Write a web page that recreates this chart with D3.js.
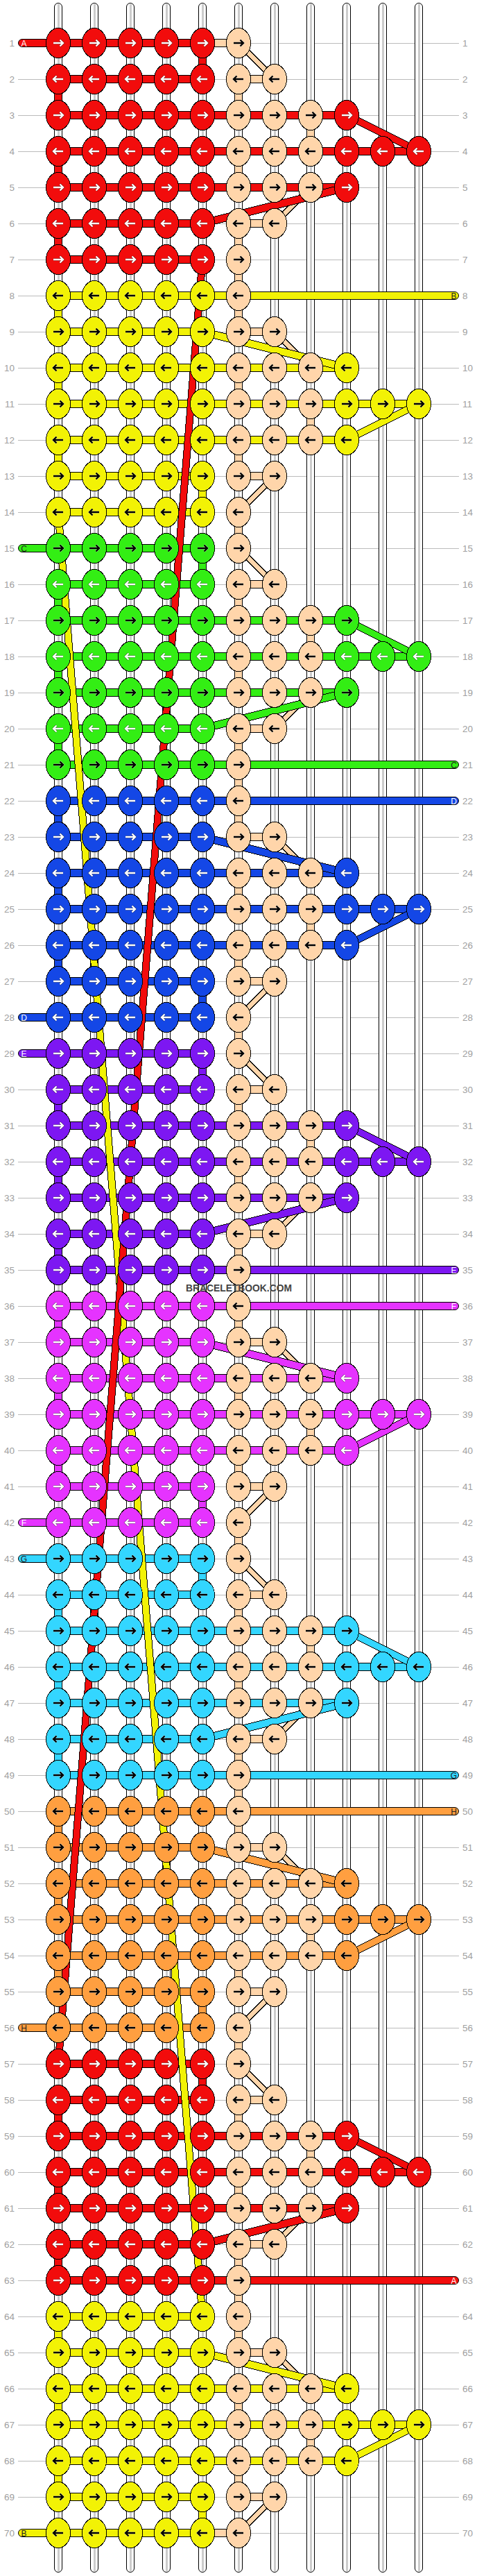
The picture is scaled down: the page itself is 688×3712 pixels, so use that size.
<!DOCTYPE html>
<html>
<head>
<meta charset="utf-8">
<script src="https://cdn.jsdelivr.net/npm/d3@7"></script>
<style>
  html, body { margin: 0; background: #fff; }
  svg { display: block; }
  text { font-family: "Liberation Sans", Arial, sans-serif; }
  rect, line, ellipse, .slanted { shape-rendering: crispEdges; }
</style>
</head>
<body>
<svg class="entry-point"></svg>
<script>
/* pattern data */
const rowNumbers = d3.range(1, 71)
const colNumbers = d3.range(0, 11)

// first row of each colour band
const bandStart = [1, 8, 15, 22, 29, 36, 43, 50, 57, 64]
const bandColors = ['#f20c0c', '#f2f205', '#33ee14', '#1447e6', '#7d17f2', '#e533ff', '#33d6ff', '#ff9f40', '#f20c0c', '#f2f205']
const bandArrows = ['#fff', '#000', '#000', '#fff', '#fff', '#fff', '#000', '#000', '#fff', '#000']
const peach = '#ffd5aa'

// the right side repeats every 14 rows
const extraKnots = [1, 2, 4, 6, 4, 2, 1, 1, 2, 4, 6, 4, 2, 1]
const peachLinkSteps = [2, 6, 9, 13]
const wideLinkSteps = [3, 4, 5, 10, 11, 12]
const widestLinkSteps = [4, 11]
const peachDiagonals = [[1, 5, 6], [5, 7, 6], [9, 6, 7], [13, 6, 5]]
const colourDiagonals = [[3, 8, 10], [5, 8, 4], [9, 4, 8], [11, 10, 8]]
const col5PeachSteps = [2, 4, 6, 7, 8, 10, 12, 14]
const col7PeachSteps = [3, 11]

// vertical links on the left columns
const col0LinkRows = [2, 4, 6, 8, 10, 12, 16, 18, 20, 22, 24, 26, 30, 32, 34, 36, 38, 40, 44, 46, 48, 50, 52, 54, 58, 60, 62, 64, 66, 68]
const col4LinkRows = [1, 13, 15, 27, 29, 41, 43, 55, 57, 69]

// ends of the strands
const leftTailRows = [1, 15, 28, 29, 42, 43, 56, 70]
const leftTailLetters = ['A', 'C', 'D', 'E', 'F', 'G', 'H', 'B']
const rightTailRows = [8, 21, 22, 35, 36, 49, 50, 63]
const rightTailLetters = ['B', 'C', 'D', 'E', 'F', 'G', 'H', 'A']
const peachStubRows = [1, 70]

// the two long strands running across the left block
const longStrands = [
  { color: 1, from: [0, 14], to: [4, 64] },
  { color: 0, from: [4, 7], to: [0, 57] }
]

/* helpers */
const x = d3.scaleLinear().domain([0, 10]).range([84, 604])
const y = d3.scaleLinear().domain([1, 70]).range([62, 3650])

const step = r => (r - 1) % 14 + 1
const band = r => d3.bisectRight(bandStart, r) - 1
const rowColor = r => bandColors[band(r)]
const darkOutline = (r) => bandArrows[band(r)] === '#fff'
const knotCount = r => 5 + extraKnots[step(r) - 1]

const root = d3.select('.entry-point')
  .attr('width', 688)
  .attr('height', 3712)

root.append('rect').attr('width', 688).attr('height', 3712).attr('fill', '#fff')

/* row guides and numbers */
const guides = root.append('g')
guides.selectAll('line')
  .data(rowNumbers).enter().append('line')
  .attr('x1', 26).attr('x2', 662)
  .attr('y1', r => y(r) + 0.5).attr('y2', r => y(r) + 0.5)
  .attr('stroke', '#bbb')

guides.selectAll('text.left')
  .data(rowNumbers).enter().append('text')
  .attr('class', 'left')
  .attr('x', 21).attr('y', r => y(r))
  .attr('dy', '0.35em')
  .attr('text-anchor', 'end')
  .attr('font-size', 13.5)
  .attr('fill', '#a0a0a0')
  .text(r => r)

guides.selectAll('text.right')
  .data(rowNumbers).enter().append('text')
  .attr('class', 'right')
  .attr('x', 667).attr('y', r => y(r))
  .attr('dy', '0.35em')
  .attr('font-size', 13.5)
  .attr('fill', '#a0a0a0')
  .text(r => r)

/* empty tubes */
const tubes = root.append('g')
tubes.selectAll('rect')
  .data(colNumbers).enter().append('rect')
  .attr('x', c => x(c) - 5.5).attr('y', 4.5)
  .attr('width', 11).attr('height', 3702)
  .attr('rx', 5.5)
  .attr('fill', '#fff').attr('stroke', '#000')
  .style('shape-rendering', 'auto')
tubes.selectAll('line')
  .data(colNumbers).enter().append('line')
  .attr('x1', c => x(c)).attr('x2', c => x(c))
  .attr('y1', 6).attr('y2', 3705)
  .attr('stroke', '#ccc').attr('stroke-width', 3)

/* short links */
const hLinks = [], vLinks = [], diagonals = []

rowNumbers.forEach(r => {
  const k = step(r)
  d3.range(0, 4).forEach(c => hLinks.push({ r, c, to: c + 1, color: rowColor(r) }))
  if (peachLinkSteps.includes(k)) hLinks.push({ r, c: 5, to: 6, color: peach })
  if (wideLinkSteps.includes(k)) {
    d3.range(4, 8).forEach(c => hLinks.push({ r, c, to: c + 1, color: rowColor(r) }))
  }
  if (widestLinkSteps.includes(k)) {
    d3.range(8, 10).forEach(c => hLinks.push({ r, c, to: c + 1, color: rowColor(r) }))
  }
  if (rightTailRows.includes(r)) hLinks.push({ r, c: 4, to: 5, color: rowColor(r) })
  if (peachStubRows.includes(r)) hLinks.push({ r, c: 4, to: 5, color: peach })

  if (r < 70) {
    if (col5PeachSteps.includes(k)) vLinks.push({ r, c: 5, color: peach })
    if (col7PeachSteps.includes(k)) vLinks.push({ r, c: 7, color: peach })
  }
  peachDiagonals.filter(d => d[0] === k && r < 70)
    .forEach(d => diagonals.push({ r, from: d[1], to: d[2], color: peach }))
})
rowNumbers.forEach(r => {
  colourDiagonals.filter(d => d[0] === step(r))
    .forEach(d => diagonals.push({ r, from: d[1], to: d[2], color: rowColor(r) }))
})
col0LinkRows.forEach(r => vLinks.push({ r, c: 0, color: rowColor(r) }))
col4LinkRows.forEach(r => vLinks.push({ r, c: 4, color: rowColor(r) }))

const links = root.append('g').attr('stroke', '#000')
links.selectAll('rect.h')
  .data(hLinks).enter().append('rect')
  .attr('class', 'h')
  .attr('x', d => x(d.c)).attr('y', d => y(d.r) - 5.5)
  .attr('width', d => x(d.to) - x(d.c)).attr('height', 11)
  .attr('fill', d => d.color)
links.selectAll('rect.v')
  .data(vLinks).enter().append('rect')
  .attr('class', 'v')
  .attr('x', d => x(d.c) - 5.5).attr('y', d => y(d.r))
  .attr('width', 11).attr('height', d => y(d.r + 1) - y(d.r))
  .attr('fill', d => d.color)

/* slanted links keep their thickness along the y axis */
const slant = d3.area().x(p => p[0]).y0(p => p[1] - 5.5).y1(p => p[1] + 5.5)
links.selectAll('path')
  .data(diagonals).enter().append('path')
  .attr('class', 'slanted')
  .attr('d', d => slant([[x(d.from), y(d.r)], [x(d.to), y(d.r + 1)]].sort((a, b) => a[0] - b[0])))
  .attr('fill', d => d.color)

/* tails */
const tailWidth = 11
const leftTails = root.append('g')
leftTails.selectAll('rect')
  .data(leftTailRows).enter().append('rect')
  .attr('x', 26.5).attr('y', r => y(r) - tailWidth / 2)
  .attr('width', 62).attr('height', tailWidth)
  .attr('rx', 5.5)
  .attr('fill', rowColor).attr('stroke', '#000')
  .style('shape-rendering', 'auto')
leftTails.selectAll('text')
  .data(leftTailRows).enter().append('text')
  .attr('x', 34.5).attr('y', r => y(r) + 4.5)
  .attr('text-anchor', 'middle')
  .attr('font-size', 12)
  .attr('fill', r => darkOutline(r) ? '#fff' : '#222')
  .text((r, i) => leftTailLetters[i])

const rightTails = root.append('g')
rightTails.selectAll('rect')
  .data(rightTailRows).enter().append('rect')
  .attr('x', 340).attr('y', r => y(r) - tailWidth / 2)
  .attr('width', 321.5).attr('height', tailWidth)
  .attr('rx', 5.5)
  .attr('fill', rowColor).attr('stroke', '#000')
  .style('shape-rendering', 'auto')
rightTails.selectAll('text')
  .data(rightTailRows).enter().append('text')
  .attr('x', 654.5).attr('y', r => y(r) + 4.5)
  .attr('text-anchor', 'middle')
  .attr('font-size', 12)
  .attr('fill', r => darkOutline(r) ? '#fff' : '#222')
  .text((r, i) => rightTailLetters[i])

/* long strands, red over yellow */
const strand = d3.area().curve(d3.curveLinear)
  .y(p => p[1]).x0(p => p[0] - 5).x1(p => p[0] + 5)
root.append('g').selectAll('path')
  .data(longStrands).enter().append('path')
  .attr('class', 'slanted')
  .attr('d', d => strand([[x(d.from[0]), y(d.from[1])], [x(d.to[0]), y(d.to[1])]]))
  .attr('fill', d => bandColors[d.color])
  .attr('stroke', '#000')

/* knots */
const knots = []
rowNumbers.forEach(r => {
  d3.range(0, knotCount(r)).forEach(c => knots.push({ r, c }))
})
const knotFill = d => (d.c >= 5 && d.c <= 7) ? peach : rowColor(d.r)
const arrowFill = d => {
  if (d.c >= 5 && d.c <= 7) return '#000'
  // green knots go white on the left-pointing rows
  if (band(d.r) === 2) return d.r % 2 ? '#000' : '#fff'
  return bandArrows[band(d.r)]
}
const knotG = root.append('g')
knotG.selectAll('ellipse')
  .data(knots).enter().append('ellipse')
  .attr('cx', d => x(d.c)).attr('cy', d => y(d.r))
  .attr('rx', 17.5).attr('ry', 21.5)
  .attr('fill', knotFill).attr('stroke', '#000')

const arrowPath = d => {
  const cx = x(d.c), cy = y(d.r), dir = d.r % 2 ? 1 : -1
  const path = d3.path()
  path.moveTo(cx - 7 * dir, cy)
  path.lineTo(cx + 6.5 * dir, cy)
  path.moveTo(cx + 2.5 * dir, cy - 4.5)
  path.lineTo(cx + 7 * dir, cy)
  path.lineTo(cx + 2.5 * dir, cy + 4.5)
  return path.toString()
}
const arrowHalo = d => arrowFill(d) === '#fff' ? '#000' : '#fff'

knotG.selectAll('path.halo')
  .data(knots).enter().append('path')
  .attr('class', 'halo')
  .attr('d', arrowPath)
  .attr('fill', 'none')
  .attr('stroke', arrowHalo)
  .attr('stroke-width', 3.4)
  .attr('stroke-opacity', 0.5)
knotG.selectAll('path.arrow')
  .data(knots).enter().append('path')
  .attr('class', 'arrow')
  .attr('d', arrowPath)
  .attr('fill', 'none')
  .attr('stroke', arrowFill)
  .attr('stroke-width', 2.4)

/* site mark */
root.append('text')
  .attr('x', 268).attr('y', 1861)
  .attr('font-size', 15)
  .attr('font-weight', 'bold')
  .attr('textLength', 153)
  .attr('lengthAdjust', 'spacingAndGlyphs')
  .attr('fill', '#444')
  .text('BRACELETBOOK.COM')
</script>
</body>
</html>
